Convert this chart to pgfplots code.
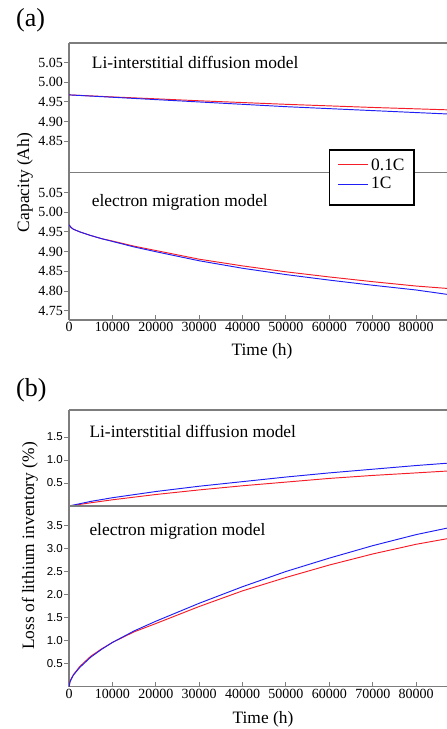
\documentclass[border=0pt]{standalone}
\usepackage{fontspec}
\setmainfont{Liberation Serif}
\newfontfamily\arialfont{Liberation Sans}
\usepackage{pgfplots}
\pgfplotsset{compat=1.18}
\definecolor{axgray}{RGB}{125,125,125}
\definecolor{cred}{RGB}{245,30,40}
\definecolor{cblue}{RGB}{30,30,245}

\pgfplotsset{
 base/.style={
  scale only axis, width=378pt, xmin=0, xmax=87100,
  axis y line*=left,
  axis line style={-, axgray, line width=1.2pt},
  every tick/.style={axgray, line width=1pt},
  major tick length=5pt,
  ytick align=outside,
  scaled x ticks=false, scaled y ticks=false,
  /pgf/number format/assume math mode=true,
  /pgf/number format/set thousands separator={},
  xticklabel style={font=\fontsize{14}{14}\selectfont, /pgf/number format/fixed, inner sep=2pt},
  yticklabel style={inner sep=1pt},
  anchor=north west,
 },
 upper/.style={xtick=\empty},
 lower/.style={xtick={0,10000,20000,30000,40000,50000,60000,70000,80000}, xtick align=inside, xtick pos=bottom},
 capA/.style={yticklabel style={font=\fontsize{14}{14}\selectfont, /pgf/number format/fixed, /pgf/number format/fixed zerofill, /pgf/number format/precision=2}},
 capB/.style={yticklabel style={font=\arialfont\fontsize{11.5}{11.5}\selectfont, /pgf/number format/fixed, /pgf/number format/fixed zerofill, /pgf/number format/precision=1}},
}

\begin{document}
\begin{tikzpicture}
\useasboundingbox (0pt,0pt) rectangle (447pt,-729pt);

% ---------- (a) upper: Li-interstitial diffusion model
\begin{axis}[base, upper, capA, at={(69pt,-43pt)}, height=129.7pt,
  ymin=4.77, ymax=5.10, ytick={4.85,4.90,4.95,5.00,5.05}]
\addplot[draw=cred, line width=0.95pt] coordinates {(0,4.968) (5000,4.9655) (10000,4.9628) (20000,4.958) (30000,4.953) (40000,4.9485) (50000,4.944) (60000,4.940) (70000,4.936) (80000,4.9325) (87100,4.930)};
\addplot[draw=cblue, line width=0.95pt] coordinates {(0,4.968) (5000,4.965) (10000,4.962) (20000,4.956) (30000,4.950) (40000,4.944) (50000,4.938) (60000,4.933) (70000,4.928) (80000,4.923) (87100,4.9195)};
\end{axis}

% ---------- (a) lower: electron migration model
\begin{axis}[base, lower, capA, at={(69pt,-172.7pt)}, height=147.3pt,
  ymin=4.727, ymax=5.10, ytick={4.75,4.80,4.85,4.90,4.95,5.00,5.05}]
\addplot[draw=cred, line width=0.95pt] coordinates {(0,4.968) (500,4.961) (1000,4.957) (2500,4.950) (5000,4.941) (7500,4.933) (10000,4.927) (15000,4.914) (20000,4.903) (30000,4.881) (40000,4.864) (50000,4.849) (60000,4.836) (70000,4.824) (80000,4.813) (87100,4.807)};
\addplot[draw=cblue, line width=0.95pt] coordinates {(0,4.968) (500,4.961) (1000,4.957) (2500,4.950) (5000,4.941) (7500,4.933) (10000,4.926) (15000,4.912) (20000,4.900) (30000,4.877) (40000,4.858) (50000,4.842) (60000,4.828) (70000,4.815) (80000,4.803) (87100,4.792)};
\end{axis}

% ---------- legend of (a)
\draw[black, line width=1.2pt, fill=white] (329.3pt,-150pt) rectangle (414pt,-205pt);
\draw[cred, line width=0.95pt] (338pt,-164.3pt) -- (368pt,-164.3pt);
\node[anchor=base west, font=\fontsize{17.4}{17.4}\selectfont, inner sep=0pt] at (371pt,-170pt) {0.1C};
\draw[cblue, line width=0.95pt] (338pt,-184pt) -- (368pt,-184pt);
\node[anchor=base west, font=\fontsize{17.4}{17.4}\selectfont, inner sep=0pt] at (371pt,-188.7pt) {1C};

% ---------- (b) upper: Li-interstitial diffusion model
\begin{axis}[base, upper, capB, at={(69pt,-410pt)}, height=96pt,
  ymin=0, ymax=2.087, ytick={0.5,1.0,1.5}]
\addplot[draw=cred, line width=0.95pt] coordinates {(0,0) (2500,0.035) (5000,0.07) (10000,0.135) (20000,0.25) (30000,0.35) (40000,0.44) (50000,0.52) (60000,0.60) (70000,0.665) (80000,0.72) (87100,0.76)};
\addplot[draw=cblue, line width=0.95pt] coordinates {(0,0) (2500,0.05) (5000,0.10) (10000,0.18) (20000,0.315) (30000,0.43) (40000,0.53) (50000,0.63) (60000,0.72) (70000,0.80) (80000,0.88) (87100,0.93)};
\end{axis}

% ---------- (b) lower: electron migration model
\begin{axis}[base, lower, capB, at={(69pt,-506pt)}, height=180.7pt,
  ymin=0, ymax=3.92, ytick={0.5,1.0,1.5,2.0,2.5,3.0,3.5}]
\addplot[draw=cred, line width=0.95pt] coordinates {(0,0) (250,0.12) (500,0.17) (1000,0.26) (2500,0.44) (5000,0.66) (7500,0.82) (10000,0.96) (15000,1.19) (20000,1.37) (30000,1.74) (40000,2.08) (50000,2.37) (60000,2.64) (70000,2.88) (80000,3.09) (87100,3.21)};
\addplot[draw=cblue, line width=0.95pt] coordinates {(0,0) (250,0.11) (500,0.16) (1000,0.25) (2500,0.42) (5000,0.64) (7500,0.81) (10000,0.96) (15000,1.21) (20000,1.42) (30000,1.81) (40000,2.17) (50000,2.50) (60000,2.79) (70000,3.06) (80000,3.30) (87100,3.44)};
\end{axis}

% ---------- texts
\node[anchor=base west, font=\fontsize{26}{26}\selectfont, inner sep=0pt] at (16pt,-26pt) {(a)};
\node[anchor=base west, font=\fontsize{26}{26}\selectfont, inner sep=0pt] at (16pt,-396.7pt) {(b)};
\node[anchor=base west, font=\fontsize{17.4}{17.4}\selectfont, inner sep=0pt] at (91.7pt,-68.3pt) {Li-interstitial diffusion model};
\node[anchor=base west, font=\fontsize{17.4}{17.4}\selectfont, inner sep=0pt] at (91.7pt,-206pt) {electron migration model};
\node[anchor=base west, font=\fontsize{17.4}{17.4}\selectfont, inner sep=0pt] at (89.3pt,-437.7pt) {Li-interstitial diffusion model};
\node[anchor=base west, font=\fontsize{17.4}{17.4}\selectfont, inner sep=0pt] at (89.3pt,-535pt) {electron migration model};
\node[anchor=base, font=\fontsize{17.4}{17.4}\selectfont, inner sep=0pt] at (262pt,-355pt) {Time (h)};
\node[anchor=base, font=\fontsize{17.4}{17.4}\selectfont, inner sep=0pt] at (263pt,-723pt) {Time (h)};
\node[rotate=90, font=\fontsize{17.4}{17.4}\selectfont, inner sep=0pt] at (25pt,-182.5pt) {Capacity (Ah)};
\node[rotate=90, font=\fontsize{17.4}{17.4}\selectfont, inner sep=0pt] at (30pt,-546pt) {Loss of lithium inventory (\%)};
\end{tikzpicture}
\end{document}
